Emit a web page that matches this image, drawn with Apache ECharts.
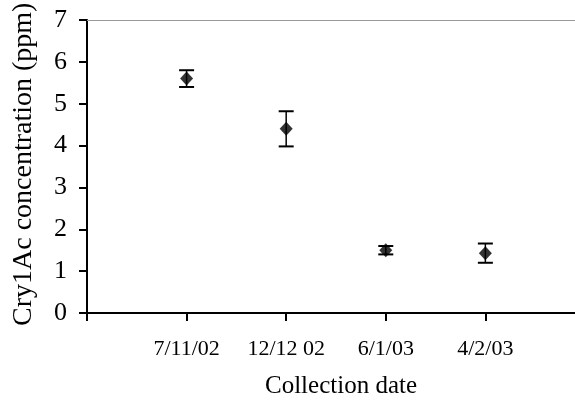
<!DOCTYPE html>
<html>
<head>
<meta charset="utf-8">
<script src="https://cdn.jsdelivr.net/npm/echarts@6/dist/echarts.min.js"></script>
<style>html,body{margin:0;padding:0;background:#fff}#c{width:575px;height:417px}</style>
</head>
<body>
<div id="c"></div>
<script>
var categories = ['7/11/02', '12/12 02', '6/1/03', '4/2/03'];
var means = [5.6, 4.4, 1.5, 1.43];
var errors = [0.2, 0.42, 0.1, 0.23];
var yTicks = [0, 1, 2, 3, 4, 5, 6, 7];
var yTitle = 'Cry1Ac concentration (ppm)';
var xTitle = 'Collection date';

var font = 'Liberation Serif';
var chart = echarts.init(document.getElementById('c'));
var pts = means.map(function (v, i) { return [i + 1, v]; });
var errData = means.map(function (v, i) { return [i + 1, v - errors[i], v + errors[i]]; });

chart.setOption({
  animation: false,
  grid: { left: 87, right: 0, top: 20, bottom: 104 },
  xAxis: [{
    type: 'value', min: 0, max: 4.9, interval: 1,
    axisLine: { lineStyle: { color: '#000', width: 2 } },
    axisTick: { show: true, length: 8, lineStyle: { color: '#000', width: 2 } },
    splitLine: { show: false },
    axisLabel: {
      margin: 25, color: '#000', fontFamily: font, fontSize: 22, showMaxLabel: false,
      formatter: function (v) { return categories[v - 1] || ''; }
    }
  }, {
    type: 'value', position: 'top', min: 0, max: 4.9,
    axisLine: { show: true, lineStyle: { color: '#999', width: 1 } },
    axisTick: { show: false }, axisLabel: { show: false }, splitLine: { show: false }
  }],
  yAxis: {
    type: 'value', min: 0, max: 7, interval: 1,
    axisLine: { show: true, lineStyle: { color: '#000', width: 2 } },
    axisTick: { show: true, length: 8, lineStyle: { color: '#000', width: 2 } },
    splitLine: { show: false },
    axisLabel: { margin: 20, color: '#000', fontFamily: font, fontSize: 26 }
  },
  graphic: [{
    type: 'text', x: 24, y: 326, rotation: Math.PI / 2,
    style: { text: yTitle, fill: '#000', fontFamily: font, fontSize: 28, textAlign: 'left', textVerticalAlign: 'middle' }
  }, {
    type: 'text', x: 341, y: 386,
    style: { text: xTitle, fill: '#000', fontFamily: font, fontSize: 25, textAlign: 'center', textVerticalAlign: 'middle' }
  }],
  series: [{
    type: 'custom',
    data: errData,
    renderItem: function (params, api) {
      var x = api.value(0);
      var lo = api.coord([x, api.value(1)]);
      var hi = api.coord([x, api.value(2)]);
      var w = 7.5;
      var st = { stroke: '#000', lineWidth: 2 };
      return {
        type: 'group', children: [
          { type: 'line', shape: { x1: lo[0], y1: lo[1], x2: hi[0], y2: hi[1] }, style: { stroke: '#000', lineWidth: 1.5 } },
          { type: 'line', shape: { x1: lo[0] - w, y1: lo[1], x2: lo[0] + w, y2: lo[1] }, style: st },
          { type: 'line', shape: { x1: hi[0] - w, y1: hi[1], x2: hi[0] + w, y2: hi[1] }, style: st }
        ]
      };
    },
    z: 2
  }, {
    type: 'scatter', data: pts, symbol: 'diamond', symbolSize: [13, 14],
    itemStyle: { color: '#000' }, z: 3
  }]
});
</script>
</body>
</html>
